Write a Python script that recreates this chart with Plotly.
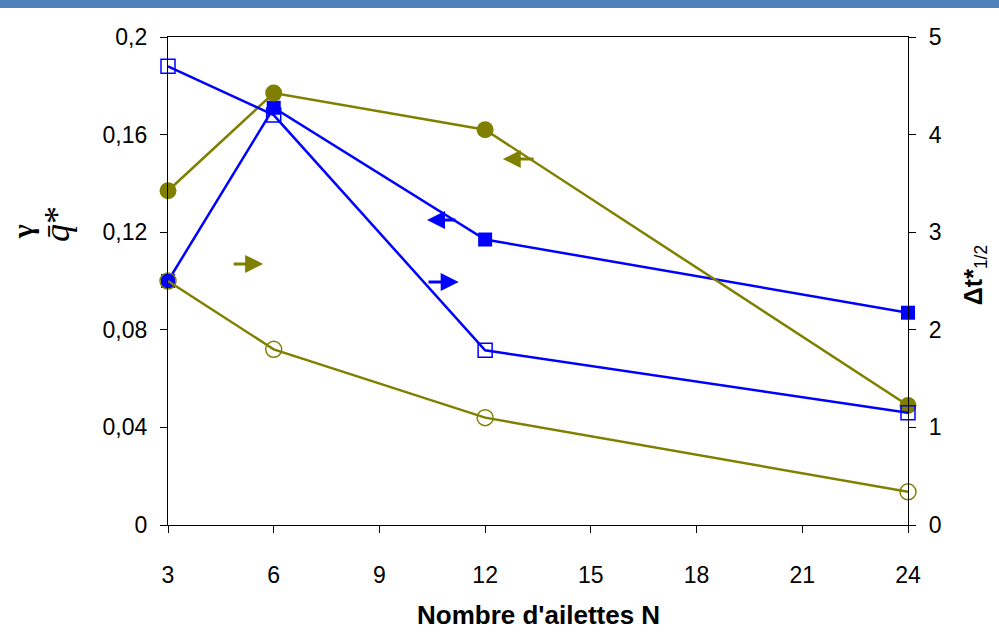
import plotly.graph_objects as go

# Data
n_ailettes = [3, 6, 12, 24]
gamma_left = [0.137, 0.177, 0.162, 0.049]          # olive filled circles (left axis)
qbar_left = [0.100, 0.171, 0.117, 0.087]           # blue filled squares (left axis)
dt_blue_right = [4.70, 4.20, 1.79, 1.15]           # blue open squares (right axis)
dt_olive_right = [2.50, 1.80, 1.10, 0.34]          # olive open circles (right axis)

x_ticks = [3, 6, 9, 12, 15, 18, 21, 24]
y_left_ticks = [0, 0.04, 0.08, 0.12, 0.16, 0.2]
y_left_labels = ["0", "0,04", "0,08", "0,12", "0,16", "0,2"]
y_right_ticks = [0, 1, 2, 3, 4, 5]
y_right_labels = ["0", "1", "2", "3", "4", "5"]

OLIVE = "#808000"
BLUE = "#0000FF"
FONT = "Liberation Sans, Arial, sans-serif"
SERIF = "Liberation Serif, serif"

fig = go.Figure()

fig.add_trace(go.Scatter(x=n_ailettes, y=qbar_left, mode="lines+markers",
                         line=dict(color=BLUE, width=2.5),
                         marker=dict(symbol="square", size=14, color=BLUE),
                         cliponaxis=False, showlegend=False))
fig.add_trace(go.Scatter(x=n_ailettes, y=gamma_left, mode="lines+markers",
                         line=dict(color=OLIVE, width=2.5),
                         marker=dict(symbol="circle", size=17, color=OLIVE),
                         cliponaxis=False, showlegend=False))
fig.add_trace(go.Scatter(x=n_ailettes, y=dt_blue_right, mode="lines+markers", yaxis="y2",
                         line=dict(color=BLUE, width=2.5),
                         marker=dict(symbol="square-open", size=14, color=BLUE,
                                     line=dict(width=1.5, color=BLUE)),
                         cliponaxis=False, showlegend=False))
fig.add_trace(go.Scatter(x=n_ailettes, y=dt_olive_right, mode="lines+markers", yaxis="y2",
                         line=dict(color=OLIVE, width=2.5),
                         marker=dict(symbol="circle-open", size=16, color=OLIVE,
                                     line=dict(width=1.5, color=OLIVE)),
                         cliponaxis=False, showlegend=False))

# Arrows indicating which axis each series belongs to
arrows = [
    (12.5, 0.150, 13.42, 0.150, OLIVE),   # olive -> left
    (10.35, 0.125, 11.2, 0.125, BLUE),    # blue -> left
    (11.25, 0.0996, 10.35, 0.0996, BLUE), # blue -> right
    (5.70, 0.107, 4.82, 0.107, OLIVE),    # olive -> right
]
for x, y, ax, ay, c in arrows:
    fig.add_annotation(x=x, y=y, ax=ax, ay=ay, xref="x", yref="y", axref="x", ayref="y",
                       showarrow=True, arrowhead=2, arrowsize=1.2, arrowwidth=3,
                       arrowcolor=c, standoff=0, startstandoff=0, text="")

# Axis titles as annotations (placed relative to the plot area)
fig.add_annotation(text="<b>γ</b>", xref="paper", yref="paper", x=0, y=0.600,
                   xshift=-146, xanchor="center", yanchor="middle", showarrow=False,
                   textangle=-90, font=dict(size=30, family=SERIF, color="black"))
fig.add_annotation(text="<i>q̄</i>*", xref="paper", yref="paper", x=0, y=0.617,
                   xshift=-111, xanchor="center", yanchor="middle", showarrow=False,
                   textangle=-90, font=dict(size=36, family=SERIF, color="black"))
fig.add_annotation(text="<b>Δt*</b><sub>1/2</sub>", xref="paper", yref="paper", x=1, y=0.512,
                   xshift=67, xanchor="center", yanchor="middle", showarrow=False,
                   textangle=-90, font=dict(size=25, family=FONT, color="black"))
fig.add_annotation(text="<b>Nombre d'ailettes N</b>", xref="paper", yref="paper", x=0.5, y=0,
                   yshift=-90, xanchor="center", yanchor="middle", showarrow=False,
                   font=dict(size=26, family=FONT, color="black"))

# Top decorative bar
fig.add_shape(type="rect", xref="paper", yref="paper", x0=-0.5, x1=1.5,
              y0=1 + 29 / 488, y1=1 + 45 / 488, fillcolor="#4F81BD", line=dict(width=0),
              layer="above")

fig.update_layout(
    width=999, height=635,
    margin=dict(l=168, r=91, t=37, b=110),
    paper_bgcolor="white", plot_bgcolor="white",
    font=dict(family=FONT, color="black", size=23),
    xaxis=dict(range=[3, 24], tickvals=x_ticks, ticktext=[str(v) for v in x_ticks],
               showgrid=False, zeroline=False, showline=True, linecolor="black", linewidth=1.3,
               mirror=True, ticks="outside", ticklen=7, tickcolor="black",
               ticklabelstandoff=22,
               tickfont=dict(size=23, family=FONT)),
    yaxis=dict(range=[0, 0.2], tickvals=y_left_ticks, ticktext=y_left_labels,
               showgrid=False, zeroline=False, showline=True, linecolor="black", linewidth=1.3,
               ticks="outside", ticklen=7, tickcolor="black", ticklabelstandoff=8,
               tickfont=dict(size=23, family=FONT)),
    yaxis2=dict(range=[0, 5], tickvals=y_right_ticks, ticktext=y_right_labels,
                overlaying="y", side="right",
                showgrid=False, zeroline=False, showline=True, linecolor="black", linewidth=1.3,
                ticks="outside", ticklen=7, tickcolor="black", ticklabelstandoff=8,
                tickfont=dict(size=23, family=FONT)),
)

fig.write_html("out.html", config={"displayModeBar": False},
               post_script="document.body.style.margin='0';")
